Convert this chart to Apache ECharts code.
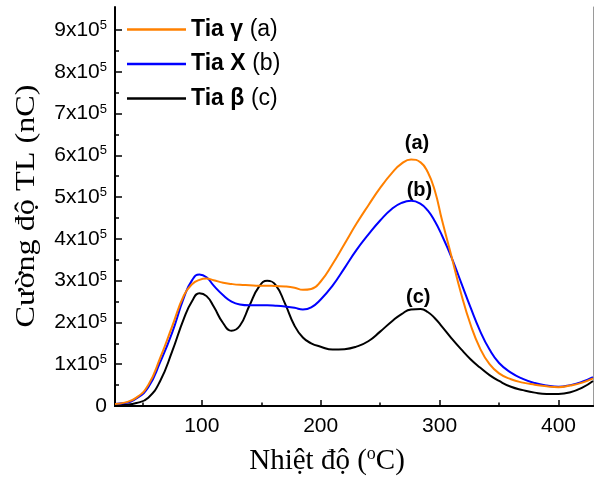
<!DOCTYPE html>
<html>
<head>
<meta charset="utf-8">
<script src="https://cdn.jsdelivr.net/npm/echarts@6/dist/echarts.min.js"></script>
<style>
html,body{margin:0;padding:0;background:#fff;}
#chart{width:594px;height:479px;}
</style>
</head>
<body>
<div id="chart"></div>
<script>
// Temperature (°C)
const temps = [27,35,45,55,65,75,85,92,98,104,110,118,125,132,140,148,155,162,170,178,185,192,200,210,220,230,240,250,260,268,276,284,290,296,302,310,318,326,334,342,350,360,370,380,390,400,410,420,429];
// TL intensity, in units of 10^5 nC
const tiaGamma = [0.05,0.08,0.2,0.5,1.15,1.9,2.65,2.92,3.02,3.05,3.01,2.95,2.92,2.9,2.89,2.88,2.88,2.87,2.86,2.83,2.78,2.8,2.98,3.4,3.88,4.36,4.8,5.22,5.58,5.8,5.9,5.83,5.6,5.15,4.45,3.58,2.7,1.95,1.38,1.0,0.78,0.64,0.56,0.51,0.47,0.45,0.49,0.56,0.66];
const tiaX = [0.05,0.07,0.18,0.45,1.05,1.75,2.6,3.02,3.15,3.08,2.88,2.65,2.5,2.43,2.41,2.41,2.41,2.4,2.38,2.35,2.31,2.36,2.55,2.88,3.3,3.73,4.1,4.44,4.72,4.86,4.91,4.84,4.68,4.42,4.08,3.56,2.96,2.36,1.8,1.35,1.03,0.8,0.65,0.55,0.49,0.46,0.5,0.58,0.69];
const tiaBeta = [0.02,0.03,0.07,0.2,0.6,1.3,2.1,2.52,2.7,2.63,2.38,1.98,1.8,1.92,2.4,2.85,3.0,2.9,2.45,1.92,1.64,1.5,1.42,1.35,1.36,1.42,1.55,1.78,2.03,2.2,2.31,2.32,2.25,2.1,1.9,1.62,1.36,1.12,0.92,0.74,0.6,0.46,0.38,0.32,0.29,0.29,0.33,0.44,0.6];

const seriesNames = ['Tia γ','Tia X','Tia β'];
const seriesTags = ['(a)','(b)','(c)'];
const seriesColors = ['#FF8000','#0000FF','#000000'];
// peak annotation label anchors [temperature, intensity]
const tagAnchors = [[281,6.28],[283,5.15],[282,2.6]];

const xMajor = [100,200,300,400];
const xMinor = [50,150,250,350];
const yMajor = [0,1,2,3,4,5,6,7,8,9];
const yMinor = [0.5,1.5,2.5,3.5,4.5,5.5,6.5,7.5,8.5];
const X_MIN = 27, X_MAX = 429, Y_MIN = 0, Y_MAX = 9.55;

const chart = echarts.init(document.getElementById('chart'));
const dataSets = [tiaGamma, tiaX, tiaBeta];

const series = dataSets.map((vals, i) => ({
  name: seriesNames[i],
  type: 'line',
  smooth: 0.5,
  symbol: 'none',
  xAxisIndex: 0,
  yAxisIndex: 0,
  lineStyle: {color: seriesColors[i], width: 2},
  itemStyle: {color: seriesColors[i]},
  data: temps.map((t, k) => [t, vals[k]]),
  markPoint: {
    symbol: 'circle',
    symbolSize: 1,
    itemStyle: {color: 'rgba(0,0,0,0)'},
    label: {
      show: true, position: 'inside', formatter: seriesTags[i],
      fontFamily: 'Liberation Sans', fontWeight: 'bold', fontSize: 20, color: '#000'
    },
    data: [{coord: tagAnchors[i]}]
  },
  z: 3 - i
}));

const axisFont = 'Liberation Sans';

chart.setOption({
  animation: false,
  backgroundColor: '#ffffff',
  grid: {left: 115, right: 1, top: 7, bottom: 73, containLabel: false},
  legend: {
    orient: 'vertical', left: 122, top: 13,
    itemWidth: 59, itemHeight: 2.5, itemGap: 11.5,
    icon: 'rect',
    data: seriesNames,
    formatter: name => '{b|' + name + '}  {n|' + seriesTags[seriesNames.indexOf(name)] + '}',
    textStyle: {
      rich: {
        b: {fontFamily: axisFont, fontWeight: 'bold', fontSize: 23, color: '#000', lineHeight: 26},
        n: {fontFamily: axisFont, fontSize: 23, color: '#000', lineHeight: 26}
      }
    }
  },
  xAxis: [
    {
      type: 'value', position: 'bottom', min: X_MIN, max: X_MAX,
      axisLine: {show: true, lineStyle: {color: '#000', width: 2}},
      axisTick: {show: true, inside: true, length: 6, lineStyle: {color: '#000', width: 1.5}, customValues: xMajor},
      axisLabel: {show: true, customValues: xMajor, margin: 10, fontFamily: axisFont, fontSize: 21, color: '#000'},
      splitLine: {show: false}
    },
    {
      type: 'value', position: 'bottom', min: X_MIN, max: X_MAX,
      axisLine: {show: false},
      axisTick: {show: true, inside: true, length: 3.5, lineStyle: {color: '#000', width: 1.5}, customValues: xMinor},
      axisLabel: {show: false},
      splitLine: {show: false}
    },
    {
      type: 'value', position: 'top', min: X_MIN, max: X_MAX,
      axisLine: {show: true, lineStyle: {color: '#000', width: 2}},
      axisTick: {show: false}, axisLabel: {show: false}, splitLine: {show: false}
    }
  ],
  yAxis: [
    {
      type: 'value', position: 'left', min: Y_MIN, max: Y_MAX,
      axisLine: {show: true, lineStyle: {color: '#000', width: 2}},
      axisTick: {show: true, inside: true, length: 7, lineStyle: {color: '#000', width: 1.5}, customValues: yMajor},
      axisLabel: {
        show: true, customValues: yMajor, margin: 8,
        formatter: v => v === 0 ? '{n|0}' : '{n|' + v + 'x10}{s|5}',
        rich: {
          n: {fontFamily: axisFont, fontSize: 21, color: '#000', lineHeight: 22},
          s: {fontFamily: axisFont, fontSize: 13, color: '#000', verticalAlign: 'top', lineHeight: 13}
        }
      },
      splitLine: {show: false}
    },
    {
      type: 'value', position: 'left', min: Y_MIN, max: Y_MAX,
      axisLine: {show: false},
      axisTick: {show: true, inside: true, length: 4, lineStyle: {color: '#000', width: 1.5}, customValues: yMinor},
      axisLabel: {show: false}, splitLine: {show: false}
    },
    {
      type: 'value', position: 'right', min: Y_MIN, max: Y_MAX,
      axisLine: {show: true, lineStyle: {color: '#9a9a9a', width: 1}},
      axisTick: {show: false}, axisLabel: {show: false}, splitLine: {show: false}
    }
  ],
  graphic: [
    {
      type: 'text', x: 27, y: 206, rotation: Math.PI / 2, scaleX: 1.15,
      style: {
        text: 'Cường độ TL (nC)', fontFamily: 'Liberation Serif', fontSize: 28,
        fill: '#000', textAlign: 'center', textVerticalAlign: 'middle'
      }
    },
    {
      type: 'text', x: 327, y: 461,
      style: {
        text: '{n|Nhiệt độ (}{s|o}{n|C)}',
        textAlign: 'center', textVerticalAlign: 'middle',
        rich: {
          n: {fontFamily: 'Liberation Serif', fontSize: 29, fill: '#000', lineHeight: 32},
          s: {fontFamily: 'Liberation Serif', fontSize: 18, fill: '#000', verticalAlign: 'top', lineHeight: 18}
        }
      }
    }
  ],
  series: series
});
</script>
</body>
</html>
